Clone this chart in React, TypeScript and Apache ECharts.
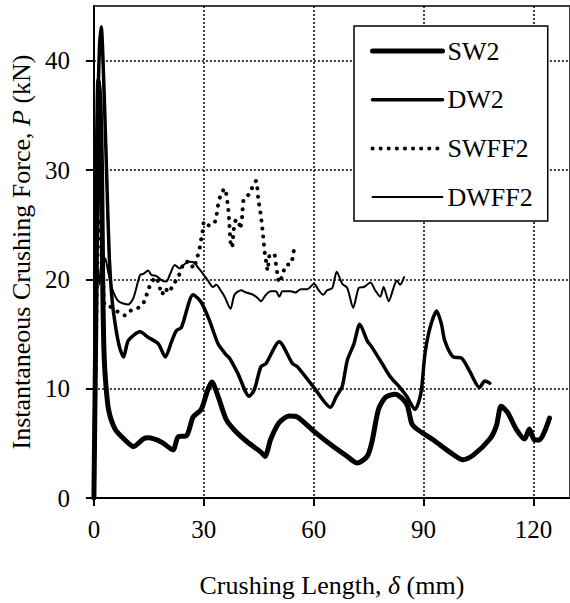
import React, { useEffect, useRef } from "react";
import * as echarts from "echarts";

// Crushing length (mm) and force (kN) samples for each specimen
const sw2X = [0, 0.4, 0.9, 1.3, 1.7, 2.1, 2.4, 2.7, 3.1, 4.0, 5.8, 8.5, 10.8, 13.5, 14.9, 18.5, 21.6, 23.0, 25.3, 27.1, 29.3, 31.1, 32.2, 33.9, 36.1, 38.4, 42.0, 45.6, 46.7, 48.3, 50.6, 53.3, 55.6, 60.1, 65.0, 69.2, 71.9, 74.6, 75.9, 77.7, 79.6, 82.3, 85.4, 86.8, 88.2, 92.7, 97.2, 100.8, 103.5, 108.1, 109.9, 111.2, 113.0, 115.3, 117.6, 118.9, 120.3, 121.6, 124.4];
const sw2Y = [0, 12, 30, 38.2, 36, 30, 20, 14, 11.1, 8.1, 6.3, 5.3, 4.7, 5.4, 5.5, 5.1, 4.4, 5.6, 5.7, 7.4, 8.1, 9.9, 10.6, 9.3, 7.2, 6.2, 5.1, 4.2, 3.8, 5.4, 6.9, 7.5, 7.4, 6.1, 4.8, 3.8, 3.2, 3.8, 5.1, 8.1, 9.2, 9.5, 8.6, 6.8, 6.3, 5.3, 4.2, 3.5, 3.9, 5.4, 6.6, 8.4, 7.8, 6.3, 5.4, 6.3, 5.3, 5.3, 7.3];

const dw2X = [0, 0.5, 1.0, 1.5, 2.0, 2.7, 3.5, 4.2, 5.0, 6.0, 7.0, 8.1, 9.4, 12.6, 14.8, 17.6, 19.5, 21.2, 22.5, 23.9, 27.1, 29.3, 31.6, 33.9, 36.1, 37.0, 39.3, 42.4, 43.8, 45.6, 47.0, 50.6, 54.2, 55.6, 60.1, 64.6, 66.2, 67.8, 69.2, 71.0, 72.6, 74.6, 75.9, 78.7, 80.9, 83.6, 85.4, 87.7, 89.3, 90.4, 91.8, 93.6, 94.9, 95.8, 98.1, 100.4, 102.6, 105.3, 106.7, 108.1];
const dw2Y = [0, 18, 34, 41, 43.1, 38, 29.4, 22, 18, 15.5, 13.8, 12.9, 14.4, 15.2, 14.7, 14.1, 12.9, 14.3, 15.3, 15.6, 18.6, 17.9, 16.2, 14.1, 13.1, 12.8, 11.4, 9.3, 9.9, 12.0, 12.3, 14.3, 12.3, 12.0, 10.1, 8.3, 9.3, 10.2, 12.6, 14.1, 15.9, 14.4, 13.8, 12.3, 11.1, 10.1, 9.3, 8.1, 9.6, 13.2, 15.6, 17.1, 15.9, 14.4, 12.9, 12.8, 11.6, 10.1, 10.7, 10.5];

const swff2X = [0, 0.5, 1.0, 1.5, 1.9, 2.3, 2.6, 2.9, 4.0, 5.3, 6.7, 8.5, 10.3, 12.8, 13.9, 14.8, 15.7, 16.9, 17.8, 18.6, 19.4, 20.4, 21.6, 23.0, 25.0, 26.4, 27.1, 28.2, 28.9, 29.3, 29.8, 30.1, 31.6, 33.1, 33.9, 34.6, 35.7, 36.6, 37.0, 37.3, 37.7, 38.2, 38.8, 39.5, 39.9, 40.5, 40.9, 42.7, 43.6, 44.3, 44.9, 45.6, 46.2, 46.7, 47.2, 47.4, 48.1, 49.2, 49.7, 50.1, 50.6, 51.5, 52.4, 53.8, 54.5, 55.1];
const swff2Y = [0, 12, 22, 25.2, 24.5, 22.5, 19.5, 17.7, 17.6, 17.3, 17.0, 16.7, 17.2, 17.5, 18.1, 19.0, 19.7, 20.2, 19.5, 18.6, 19.2, 18.8, 19.5, 20.2, 21.6, 21.6, 21.0, 22.0, 22.9, 23.7, 24.6, 25.3, 24.9, 25.3, 26.8, 27.7, 28.3, 26.7, 25.0, 23.4, 22.9, 24.6, 25.4, 25.4, 24.6, 25.8, 27.3, 27.9, 28.8, 29.0, 27.3, 25.8, 24.0, 22.3, 21.3, 20.8, 22.3, 22.3, 21.4, 20.5, 19.7, 20.4, 21.3, 21.4, 22.5, 23.3];

const dwff2X = [0, 0.6, 1.0, 1.5, 2.2, 3.1, 4.0, 4.9, 6.7, 9.4, 10.8, 12.6, 13.5, 14.8, 15.7, 17.1, 18.5, 19.8, 20.7, 22.1, 23.4, 24.8, 26.1, 27.5, 28.4, 29.8, 31.1, 32.5, 33.4, 34.8, 35.7, 37.3, 38.4, 40.2, 41.5, 43.4, 44.7, 45.6, 47.0, 48.3, 49.7, 50.6, 51.5, 53.8, 55.1, 56.5, 58.3, 60.1, 61.4, 62.6, 63.7, 65.1, 66.3, 67.8, 69.2, 70.8, 72.3, 73.7, 75.5, 76.8, 78.2, 79.1, 80.5, 81.8, 82.7, 83.6, 84.7];
const dwff2Y = [0, 14, 21, 19.5, 22, 21.9, 20.5, 19.2, 18.0, 17.7, 18.3, 20.4, 20.5, 20.8, 20.4, 20.3, 19.9, 19.8, 20.4, 21.3, 21.0, 21.4, 21.6, 21.5, 21.1, 20.5, 19.9, 19.3, 19.5, 18.9, 18.4, 17.3, 18.6, 19.0, 18.8, 18.6, 18.3, 18.0, 18.6, 18.9, 18.9, 18.4, 18.9, 18.9, 18.8, 19.1, 19.1, 19.6, 19.0, 18.6, 19.0, 19.2, 20.7, 19.6, 19.2, 17.4, 19.2, 19.3, 19.7, 19.0, 18.4, 19.3, 18.0, 19.2, 19.9, 19.5, 20.2];

const xTicks = [0, 30, 60, 90, 120];
const yTicks = [0, 10, 20, 30, 40];

const FONT = "'Liberation Serif', 'Times New Roman', serif";

const pairs = (xs: number[], ys: number[]) => xs.map((x, i) => [x, ys[i]]);

// line widths and dash patterns per specimen, shared by plot and legend
const styles: Record<string, any> = {
  SW2: { color: "#000", width: 5, cap: "round", join: "round" },
  DW2: { color: "#000", width: 3.5, cap: "round", join: "round" },
  SWFF2: { color: "#000", width: 4, type: [0.1, 8], cap: "round", join: "round" },
  DWFF2: { color: "#000", width: 2, cap: "round", join: "round" },
};

export default function App() {
  const ref = useRef<HTMLDivElement>(null);

  useEffect(() => {
    if (!ref.current) return;
    const chart = echarts.init(ref.current, null, { renderer: "svg" });

    const lineBase = { type: "line", symbol: "none", showSymbol: false, smooth: 0.25, z: 3 };
    const names = ["SW2", "DW2", "SWFF2", "DWFF2"];

    chart.setOption({
      animation: false,
      backgroundColor: "#fff",
      grid: {
        left: 92,
        top: 6,
        width: 479,
        height: 501,
        show: true,
        borderColor: "#000",
        borderWidth: 1.5,
      },
      legend: {
        orient: "vertical",
        left: 354,
        top: 26,
        padding: [12, 15, 11, 16],
        itemWidth: 70,
        itemHeight: 26,
        itemGap: 22.7,
        backgroundColor: "#fff",
        borderColor: "#000",
        borderWidth: 1.5,
        itemStyle: { opacity: 0, borderWidth: 0 },
        textStyle: { fontFamily: FONT, fontSize: 26, color: "#000" },
        data: names.map((n) => ({ name: n, lineStyle: styles[n], itemStyle: { opacity: 0 } })),
      },
      xAxis: {
        type: "value",
        min: 0,
        max: 130,
        interval: 30,
        name: "Crushing Length, {i|δ} (mm)",
        nameLocation: "middle",
        nameGap: 74,
        nameTextStyle: {
          fontFamily: FONT,
          fontSize: 26,
          color: "#000",
          rich: { i: { fontFamily: FONT, fontSize: 26, fontStyle: "italic", color: "#000" } },
        },
        axisLine: { onZero: false, lineStyle: { color: "#000", width: 2 } },
        axisTick: { inside: false, length: 8, customValues: xTicks, lineStyle: { color: "#000", width: 2 } },
        axisLabel: { customValues: xTicks, margin: 19, fontFamily: FONT, fontSize: 25, color: "#000" },
        splitLine: { show: true, lineStyle: { color: "#000", width: 1.5, type: [2, 2] } },
      },
      yAxis: {
        type: "value",
        min: 0,
        max: 45,
        interval: 10,
        name: "Instantaneous Crushing Force, {i|P} (kN)",
        nameLocation: "middle",
        nameGap: 58,
        nameTextStyle: {
          fontFamily: FONT,
          fontSize: 26,
          color: "#000",
          rich: { i: { fontFamily: FONT, fontSize: 26, fontStyle: "italic", color: "#000" } },
        },
        axisLine: { onZero: false, lineStyle: { color: "#000", width: 2 } },
        axisTick: { inside: false, length: 8, customValues: yTicks, lineStyle: { color: "#000", width: 2 } },
        axisLabel: { customValues: yTicks, margin: 24, fontFamily: FONT, fontSize: 25, color: "#000" },
        splitLine: { show: true, lineStyle: { color: "#000", width: 1.5, type: [2, 2] } },
      },
      series: [
        { ...lineBase, name: "SW2", data: pairs(sw2X, sw2Y), lineStyle: styles.SW2, itemStyle: { color: "#000" } },
        { ...lineBase, name: "DW2", data: pairs(dw2X, dw2Y), lineStyle: styles.DW2, itemStyle: { color: "#000" } },
        { ...lineBase, name: "SWFF2", data: pairs(swff2X, swff2Y), lineStyle: styles.SWFF2, itemStyle: { color: "#000" } },
        { ...lineBase, name: "DWFF2", data: pairs(dwff2X, dwff2Y), lineStyle: styles.DWFF2, itemStyle: { color: "#000" } },
      ],
    });

    return () => chart.dispose();
  }, []);

  return (
    <div
      ref={ref}
      style={{ position: "fixed", left: 0, top: 0, width: 570, height: 603, background: "#fff" }}
    />
  );
}
